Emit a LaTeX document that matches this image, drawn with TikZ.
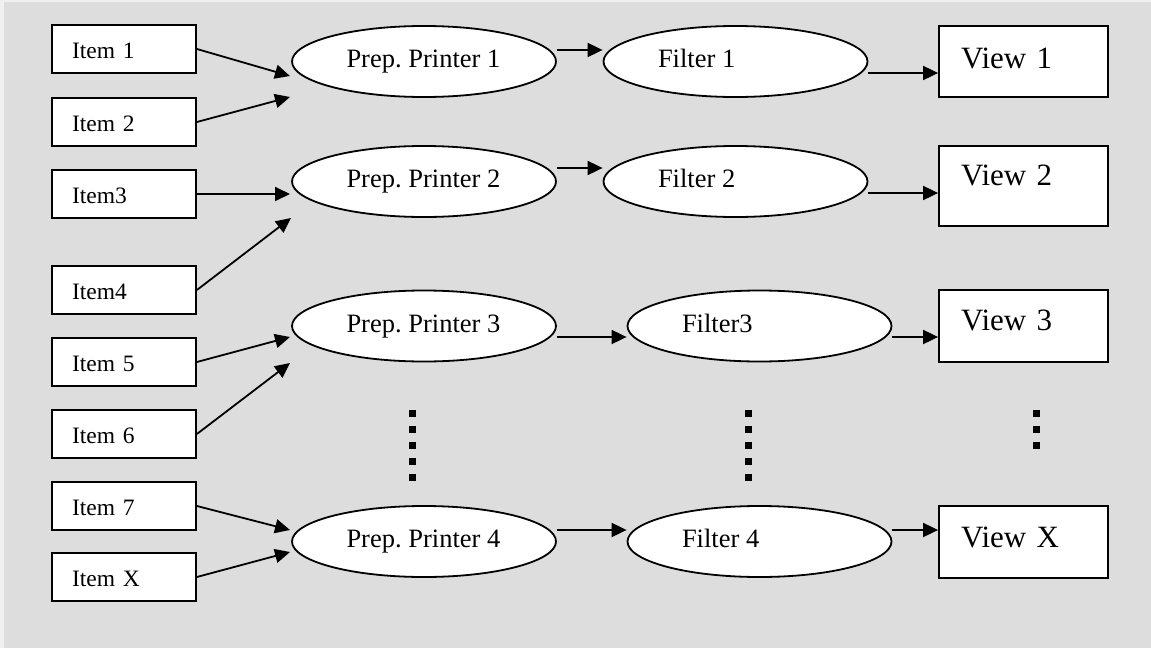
\documentclass[tikz,border=0pt]{standalone}
\usepackage{fontspec}
\setmainfont{Liberation Serif}
\usetikzlibrary{arrows.meta,calc,shapes.geometric}
\definecolor{bgc}{RGB}{221,221,221}
\newcommand{\lbx}[1]{\makebox[155pt][l]{#1}}
\frenchspacing
\begin{document}
\begin{tikzpicture}[x=1pt,y=-1pt,
 itembox/.style={draw, line width=1.8pt, fill=white, rectangle, minimum width=144pt, minimum height=48pt, inner xsep=20pt, inner ysep=0pt, text width=104pt, align=left, text height=18pt, text depth=0pt, font=\fontsize{23.5}{28}\selectfont},
 procell/.style={draw, line width=1.8pt, fill=white, ellipse, minimum width=264pt, minimum height=71pt, inner sep=0pt, text height=18pt, text depth=6pt, font=\fontsize{26.5}{31}\selectfont},
 viewbox/.style={draw, line width=1.8pt, fill=white, rectangle, minimum width=169pt, inner xsep=22pt, inner ysep=0pt, text width=125pt, align=left, text height=21pt, font=\fontsize{31}{36}\selectfont},
 arr/.style={line width=1.8pt, -{Triangle[length=15pt,width=14pt]}},
 dotsq/.style={fill=black}
]
\useasboundingbox (0,0) rectangle (1151,648);
\fill[bgc] (0,0) rectangle (1151,648);
\fill[white!55!bgc] (0,0) rectangle (4,648);
\fill[white!55!bgc] (0,0) rectangle (1151,2);

% items
\node[itembox] (i1) at (124,49) {Item 1};
\node[itembox] (i2) at (124,122) {Item 2};
\node[itembox] (i3) at (124,194) {Item3};
\node[itembox] (i4) at (124,290) {Item4};
\node[itembox] (i5) at (124,362) {Item 5};
\node[itembox] (i6) at (124,434) {Item 6};
\node[itembox] (i7) at (124,506) {Item 7};
\node[itembox] (ix) at (124,577) {Item X};

% prep printers
\node[procell] (p1) at (424,61.5) {\lbx{Prep. Printer 1}};
\node[procell] (p2) at (424,181.5) {\lbx{Prep. Printer 2}};
\node[procell] (p3) at (424,326) {\lbx{Prep. Printer 3}};
\node[procell] (p4) at (424,541.5) {\lbx{Prep. Printer 4}};

% filters
\node[procell] (f1) at (735.5,61.5) {\lbx{Filter 1}};
\node[procell] (f2) at (735.5,181.5) {\lbx{Filter 2}};
\node[procell] (f3) at (759.5,326) {\lbx{Filter3}};
\node[procell] (f4) at (759.5,541.5) {\lbx{Filter 4}};

% views
\node[viewbox, minimum height=71pt, text depth=8pt] (v1) at (1023.5,61.5) {View 1};
\node[viewbox, minimum height=80pt, text depth=23pt] (v2) at (1023.5,186) {View 2};
\node[viewbox, minimum height=72pt, text depth=13pt] (v3) at (1023.5,326) {View 3};
\node[viewbox, minimum height=72pt, text depth=11pt] (vx) at (1023.5,542) {View X};

% free ends of item arrows
\coordinate (e1) at (290,76);
\coordinate (e2) at (290,97);
\coordinate (e3) at (290,194);
\coordinate (e4) at (291,218);
\coordinate (e5) at (290,337);
\coordinate (e6) at (290,363);
\coordinate (e7) at (290,530);
\coordinate (ex) at (290,552);

\draw[arr] (i1.east) -- (e1);
\draw[arr] (i2.east) -- (e2);
\draw[arr] (i3.east) -- (e3);
\draw[arr] (i4.east) -- (e4);
\draw[arr] (i5.east) -- (e5);
\draw[arr] (i6.east) -- (e6);
\draw[arr] (i7.east) -- (e7);
\draw[arr] (ix.east) -- (ex);

% printer -> filter
\coordinate (p1o) at ($(p1.east)+(0,-11.5)$);
\coordinate (p2o) at ($(p2.east)+(0,-13.5)$);
\coordinate (p3o) at ($(p3.east)+(0,11)$);
\coordinate (p4o) at ($(p4.east)+(0,-11.5)$);
\draw[arr] (p1o) -- (p1o -| f1.west);
\draw[arr] (p2o) -- (p2o -| f2.west);
\draw[arr] (p3o) -- (p3o -| f3.west);
\draw[arr] (p4o) -- (p4o -| f4.west);

% filter -> view
\coordinate (f1o) at ($(f1.east)+(0,11.5)$);
\coordinate (f2o) at ($(f2.east)+(0,11.5)$);
\coordinate (f3o) at ($(f3.east)+(0,11)$);
\coordinate (f4o) at ($(f4.east)+(0,-11.5)$);
\draw[arr] (f1o) -- (f1o -| v1.west);
\draw[arr] (f2o) -- (f2o -| v2.west);
\draw[arr] (f3o) -- (f3o -| v3.west);
\draw[arr] (f4o) -- (f4o -| vx.west);

% vertical ellipsis dots
\foreach \k in {0,...,4} {
  \fill[dotsq] (408.5,410+16*\k) rectangle ++(7,7);
  \fill[dotsq] (744.5,410+16*\k) rectangle ++(7,7);
}
\foreach \k in {0,...,2} {
  \fill[dotsq] (1033,410+16*\k) rectangle ++(7,7);
}
\end{tikzpicture}
\end{document}
